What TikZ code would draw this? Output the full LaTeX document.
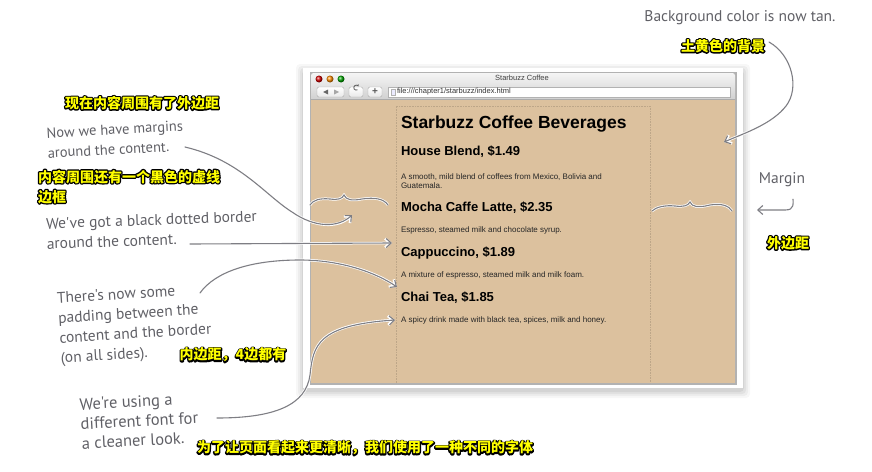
\documentclass[tikz,border=0pt]{standalone}
\usepackage{fontspec}
\setmainfont{Liberation Sans}
\newfontfamily\hand{PT Sans}
\newfontfamily\cjk{Noto Sans CJK SC}
\usetikzlibrary{arrows.meta}
\definecolor{sbtan}{RGB}{220,193,158}
\definecolor{sbpen}{RGB}{96,96,102}
\definecolor{sbline}{RGB}{126,126,132}
\definecolor{sbyellow}{RGB}{255,255,0}
% yellow text with a black rim
\newcommand{\glowtext}[1]{\leavevmode\rlap{\color{black}\special{pdf:literal direct 2 Tr 2.6 w 1 j}#1\special{pdf:literal direct 0 Tr 1 w}}#1}

\begin{document}
\begin{tikzpicture}[x=1pt,y=-1pt,
  every node/.style={inner sep=0pt,outer sep=0pt},
  note/.style={font=\hand\fontsize{15.5}{20}\selectfont,text=sbpen,align=left},
  cnote/.style={font=\cjk\bfseries\fontsize{14}{20}\selectfont,text=sbyellow,align=left},
  head/.style={anchor=base west,font=\bfseries\fontsize{17.5}{20}\selectfont},
  dish/.style={anchor=base west,font=\bfseries\fontsize{13}{15}\selectfont},
  blurb/.style={anchor=base west,font=\fontsize{8}{9}\selectfont,align=left,text=black!85},
  btn/.style={draw=gray!65,top color=white,bottom color=gray!18,rounded corners=1.5pt},
  pointer/.style={sbline,line width=1.1pt,line cap=round,-{Straight Barb[length=5pt,width=9pt]},preaction={draw=white,line width=2.6pt}},
  squig/.style={sbline,line width=1.1pt,line cap=round,preaction={draw=white,line width=2.6pt}}]
\useasboundingbox (0,0) rectangle (872,471);

% screenshot card
\foreach \d/\o in {7/0.03,5/0.04,3/0.05,1/0.06}
  \fill[black,opacity=\o,rounded corners=4pt] (303-\d,68-\d+3) rectangle (743+\d,388+\d+3);
\fill[white] (303,68) rectangle (743,388);

% browser window
\fill[black,opacity=0.3] (310,72) rectangle (736.5,384.5);
\shade[top color=gray!8,bottom color=gray!38,rounded corners=2.5pt] (311,73) rectangle (735,101);
\fill[sbtan] (311,99) rectangle (735,383);
\draw[gray!65] (311,99) -- (735,99);
\foreach \x/\c in {319/red!85!black,330/orange!90!yellow,341/green!65!black}
  \shade[ball color=\c] (\x,79) circle (3.5);
\node[font=\fontsize{7.5}{8}\selectfont,text=black!75] (wintitle) at (522,78) {Starbuzz Coffee};
\draw[btn] (317,87) rectangle (344,97);
\fill[black!60] (323,92) -- (328,89.5) -- (328,94.5) -- cycle;
\fill[black!35] (339,92) -- (334,89.5) -- (334,94.5) -- cycle;
\draw[btn] (349,87) rectangle (363,97);
\draw[black!65,line width=0.8pt,-{Stealth[length=1.8pt,width=2.4pt]}] (357.5,89.8) arc[start angle=60,end angle=330,radius=2.5];
\draw[btn] (368,87) rectangle (382,97);
\node[font=\bfseries\fontsize{10}{10}\selectfont,text=black!65] (plusbtn) at (375,92) {+};
\draw[gray!60,fill=white] (388,87) rectangle (730,97);
\draw[gray!60,fill=blue!8] (391,89) rectangle (395,95);
\node[anchor=west,font=\fontsize{7.5}{8}\selectfont,text=black!80] (url) at (397,92) {file:///chapter1/starbuzz/index.html};

% page content
\draw[sbtan!86!black,densely dotted,line width=0.6pt] (396,383) -- (396,106) -- (650,106) -- (650,383);
\node[head] (title) at (401,128) {Starbuzz Coffee Beverages};
\node[dish] (house) at (401,155) {House Blend, \$1.49};
\node[blurb] (houseblurb) at (401,188) {A smooth, mild blend of coffees from Mexico, Bolivia and\\Guatemala.};
\node[dish] (mocha) at (401,211) {Mocha Caffe Latte, \$2.35};
\node[blurb] (mochablurb) at (401,232) {Espresso, steamed milk and chocolate syrup.};
\node[dish] (cappu) at (401,256) {Cappuccino, \$1.89};
\node[blurb] (cappublurb) at (401,277) {A mixture of espresso, steamed milk and milk foam.};
\node[dish] (chai) at (401,301) {Chai Tea, \$1.85};
\node[blurb] (chaiblurb) at (401,322) {A spicy drink made with black tea, spices, milk and honey.};

% margin squiggles
\draw[squig] (310,205) .. controls (313,200) and (320,198) .. (330,199) .. controls (338,200) and (342,199) .. (344,195)
  .. controls (346,200) and (352,201) .. (362,199) .. controls (375,197) and (384,199) .. (388,205);
\draw[squig] (652,211) .. controls (656,207) and (665,205) .. (675,206) .. controls (683,207) and (688,206) .. (690,202)
  .. controls (692,207) and (698,208) .. (710,205) .. controls (722,203) and (729,206) .. (732,211);

% notes
\node[note,anchor=base] (bgnote) at (740,21) {Background color is now tan.};
\node[cnote] (bgcn) at (723,46) {\glowtext{土黄色的背景}};
\node[note] (mgnote) at (782,180) {Margin};
\node[cnote] (mgcn) at (788,243) {\glowtext{外边距}};
\node[cnote] (outcn) at (142,103) {\glowtext{现在内容周围有了外边距}};
\node[note,anchor=base west,rotate=3,font=\hand\fontsize{14.5}{20}\selectfont] (outnote) at (48,158) {Now we have margins\\around the content.};
\node[cnote,anchor=base west] (bdcn) at (38,202) {\glowtext{内容周围还有一个黑色的虚线}\\\glowtext{边框}};
\node[note,anchor=base west,rotate=2] (bdnote) at (47,249) {We've got a black dotted border\\around the content.};
\node[note,anchor=base west,rotate=3.5,font=\hand\fontsize{15.5}{20}\selectfont] (padnote) at (61,363) {There's now some\\padding between the\\content and the border\\(on all sides).};
\node[cnote] (padcn) at (233,355) {\glowtext{内边距，4边都有}};
\node[note,anchor=base west,rotate=3,font=\hand\fontsize{16.5}{19.5}\selectfont] (fontnote) at (82,449) {We're using a\\different font for\\a cleaner look.};
\node[cnote] (fontcn) at (365,448) {\glowtext{为了让页面看起来更清晰，我们使用了一种不同的字体}};

% arrow ends
\coordinate (bgtip) at (724,142);
\coordinate (mgtip) at (757,210);
\coordinate (outtail) at (185,147);
\coordinate (outtip) at (352,215);
\coordinate (bdtail) at (190,244);
\coordinate (bdtip) at (392,243);
\coordinate (padtail) at (200,293);
\coordinate (padtip) at (397,287);
\coordinate (fonttail) at (217,418);
\coordinate (fonttip) at (395,320);

\draw[pointer] ([xshift=4pt,yshift=4pt]bgcn.east) .. controls (792,55) and (800,88) .. (786,106) .. controls (772,124) and (745,133) .. (bgtip);
\draw[pointer] ([xshift=11pt,yshift=-12pt]mgnote.south) .. controls (794,211) and (790,210) .. (778,210) -- (mgtip);
\draw[pointer] (outtail) .. controls (240,160) and (265,195) .. (292,212) .. controls (315,228) and (338,228) .. (outtip);
\draw[pointer] (bdtail) -- (bdtip);
\draw[pointer] (padtail) .. controls (215,272) and (250,260) .. (300,260) .. controls (340,260) and (375,272) .. (padtip);
\draw[pointer] (fonttail) .. controls (275,418) and (306,405) .. (310,375) .. controls (313,345) and (318,325) .. (fonttip);
\end{tikzpicture}
\end{document}
